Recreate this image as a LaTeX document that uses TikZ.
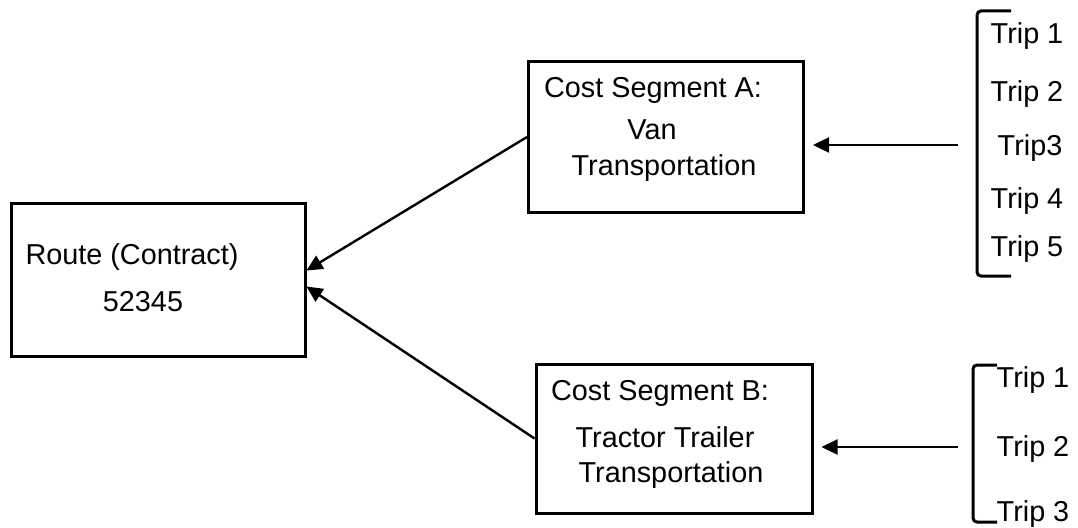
\documentclass[tikz,border=0pt]{standalone}
\usepackage{fontspec}
\setmainfont{Liberation Sans}
\usetikzlibrary{arrows.meta}
\begin{document}
\begin{tikzpicture}[x=1pt,y=-1pt,
  box/.style={draw, line width=3pt, inner sep=0pt, minimum width=#1},
  lbl/.style={inner sep=0pt, font=\fontsize{28.8}{34}\selectfont},
  arr/.style={line width=2.4pt, -{Triangle[length=16pt,width=15pt]}},
  brk/.style={line width=3pt, rounded corners=4pt},
]
\useasboundingbox (0,0) rectangle (1078,527);

% main boxes
\node[box=294pt, minimum height=153pt] (route) at (158,279.5) {};
\node[box=275pt, minimum height=150pt] (segA) at (666,137) {};
\node[box=276pt, minimum height=149pt] (segB) at (674,438.5) {};

% box texts
\node[lbl] (routeT) at (132,257) {Route (Contract)};
\node[lbl] (routeN) at (143,302) {52345};
\node[lbl] (aT) at (653,90) {Cost Segment A:};
\node[lbl] (aV) at (652,130) {Van};
\node[lbl] (aTr) at (664,168) {Transportation};
\node[lbl] (bT) at (660,393) {Cost Segment B:};
\node[lbl] (bTT) at (665,437) {Tractor Trailer};
\node[lbl] (bTr) at (671,475) {Transportation};

% trips for segment A
\node[lbl] (a1) at (1027,36) {Trip 1};
\node[lbl] (a2) at (1027,94) {Trip 2};
\node[lbl] (a3) at (1030,148) {Trip3};
\node[lbl] (a4) at (1027,201) {Trip 4};
\node[lbl] (a5) at (1027,249) {Trip 5};
\draw[brk] (1011,11) -- (977,11) -- (977,276) -- (1011,276);

% trips for segment B
\node[lbl] (b1) at (1033,380) {Trip 1};
\node[lbl] (b2) at (1033,449) {Trip 2};
\node[lbl] (b3) at (1033,514) {Trip 3};
\draw[brk] (997,365) -- (973,365) -- (973,522) -- (997,522);

% connectors
\coordinate (fromA) at (958,145);
\coordinate (fromB) at (958,447);
\draw[arr, shorten >=8pt] (fromA) -- (fromA -| segA.east);
\draw[arr, shorten >=8pt] (fromB) -- (fromB -| segB.east);
\draw[arr] (segA.west) -- ([yshift=9pt]route.east);
\draw[arr] (segB.west) -- ([yshift=-7pt]route.east);
\end{tikzpicture}
\end{document}
